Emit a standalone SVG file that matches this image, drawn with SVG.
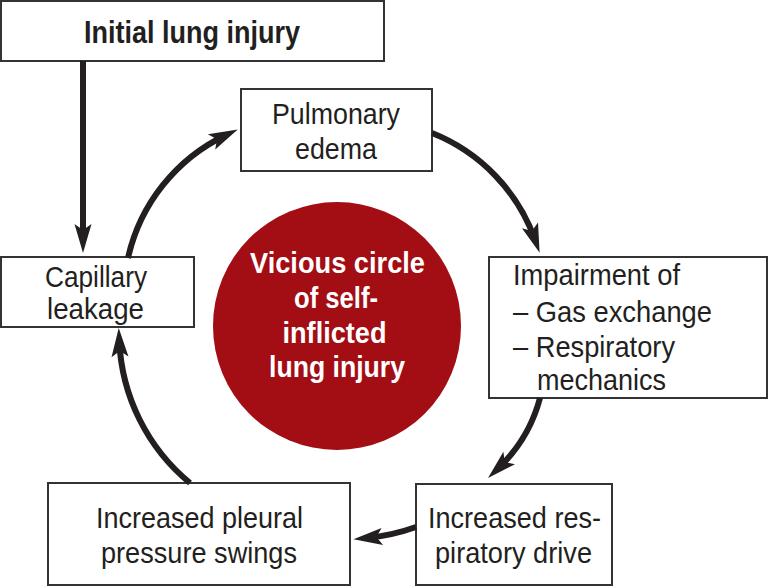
<svg xmlns="http://www.w3.org/2000/svg" width="769" height="587" viewBox="0 0 769 587">
<style>
.box{fill:#fff;stroke:#333;stroke-width:2}
.t{font-family:"Liberation Sans Narrow","Liberation Sans",Arial,sans-serif;font-size:30px;fill:#231f20}
.c{text-anchor:middle}
.b{font-weight:bold;font-size:29px}
.w{fill:#fff}
.conn{fill:none;stroke:#231f20;stroke-width:6}
</style>
<defs>
<marker id="ah" markerUnits="userSpaceOnUse" viewBox="-18 -10 32 20" refX="0" refY="0" markerWidth="32" markerHeight="20" orient="auto">
<path d="M13,0 L-16,-8.5 L-10,0 L-16,8.5 Z" fill="#231f20"/>
</marker>
</defs>
<g id="center-circle">
<circle cx="337" cy="326" r="124" fill="#a30d14"/>
<text class="t c b w" x="337.5" y="273" textLength="175" lengthAdjust="spacingAndGlyphs">Vicious circle</text>
<text class="t c b w" x="336" y="308" textLength="84" lengthAdjust="spacingAndGlyphs">of self-</text>
<text class="t c b w" x="334.5" y="343" textLength="104" lengthAdjust="spacingAndGlyphs">inflicted</text>
<text class="t c b w" x="337" y="377" textLength="136" lengthAdjust="spacingAndGlyphs">lung injury</text>
</g>
<g id="initial-lung-injury">
<rect class="box" x="1" y="1" width="383" height="60"/>
<text class="t c b" x="192" y="43" style="font-size:32px" textLength="216" lengthAdjust="spacingAndGlyphs">Initial lung injury</text>
</g>
<g id="pulmonary-edema">
<rect class="box" x="241" y="89" width="191" height="82"/>
<text class="t c" x="336" y="124" textLength="128" lengthAdjust="spacingAndGlyphs">Pulmonary</text>
<text class="t c" x="336" y="159" textLength="82" lengthAdjust="spacingAndGlyphs">edema</text>
</g>
<g id="capillary-leakage">
<rect class="box" x="1" y="257" width="193" height="70"/>
<text class="t c" x="96" y="287" textLength="102" lengthAdjust="spacingAndGlyphs">Capillary</text>
<text class="t c" x="95.5" y="319" textLength="97" lengthAdjust="spacingAndGlyphs">leakage</text>
</g>
<g id="impairment">
<rect class="box" x="489" y="257" width="278" height="141"/>
<text class="t" x="513" y="285" textLength="167" lengthAdjust="spacingAndGlyphs">Impairment of</text>
<text class="t" x="513" y="322" textLength="199" lengthAdjust="spacingAndGlyphs">– Gas exchange</text>
<text class="t" x="513" y="357" textLength="162" lengthAdjust="spacingAndGlyphs">– Respiratory</text>
<text class="t" x="537" y="390" textLength="129" lengthAdjust="spacingAndGlyphs">mechanics</text>
</g>
<g id="respiratory-drive">
<rect class="box" x="416" y="484" width="196" height="101"/>
<text class="t c" x="514.5" y="528" textLength="173" lengthAdjust="spacingAndGlyphs">Increased res-</text>
<text class="t c" x="513.5" y="563" textLength="157" lengthAdjust="spacingAndGlyphs">piratory drive</text>
</g>
<g id="pleural-pressure">
<rect class="box" x="48" y="483" width="302" height="102"/>
<text class="t c" x="199.5" y="528" textLength="207" lengthAdjust="spacingAndGlyphs">Increased pleural</text>
<text class="t c" x="199" y="563" textLength="196" lengthAdjust="spacingAndGlyphs">pressure swings</text>
</g>
<g id="connectors">
<path class="conn" marker-end="url(#ah)" d="M83,61 L83,240"/>
<path class="conn" marker-end="url(#ah)" d="M128,258 A180,180 0 0 1 226,135"/>
<path class="conn" marker-end="url(#ah)" d="M432,133 A180,180 0 0 1 535.3,240.5"/>
<path class="conn" marker-end="url(#ah)" d="M540,398 A150,150 0 0 1 497.5,469"/>
<path class="conn" marker-end="url(#ah)" d="M416,527 A200,200 0 0 1 366.4,538"/>
<path class="conn" marker-end="url(#ah)" d="M190,483 A195,195 0 0 1 119.3,341"/>
</g>
</svg>
